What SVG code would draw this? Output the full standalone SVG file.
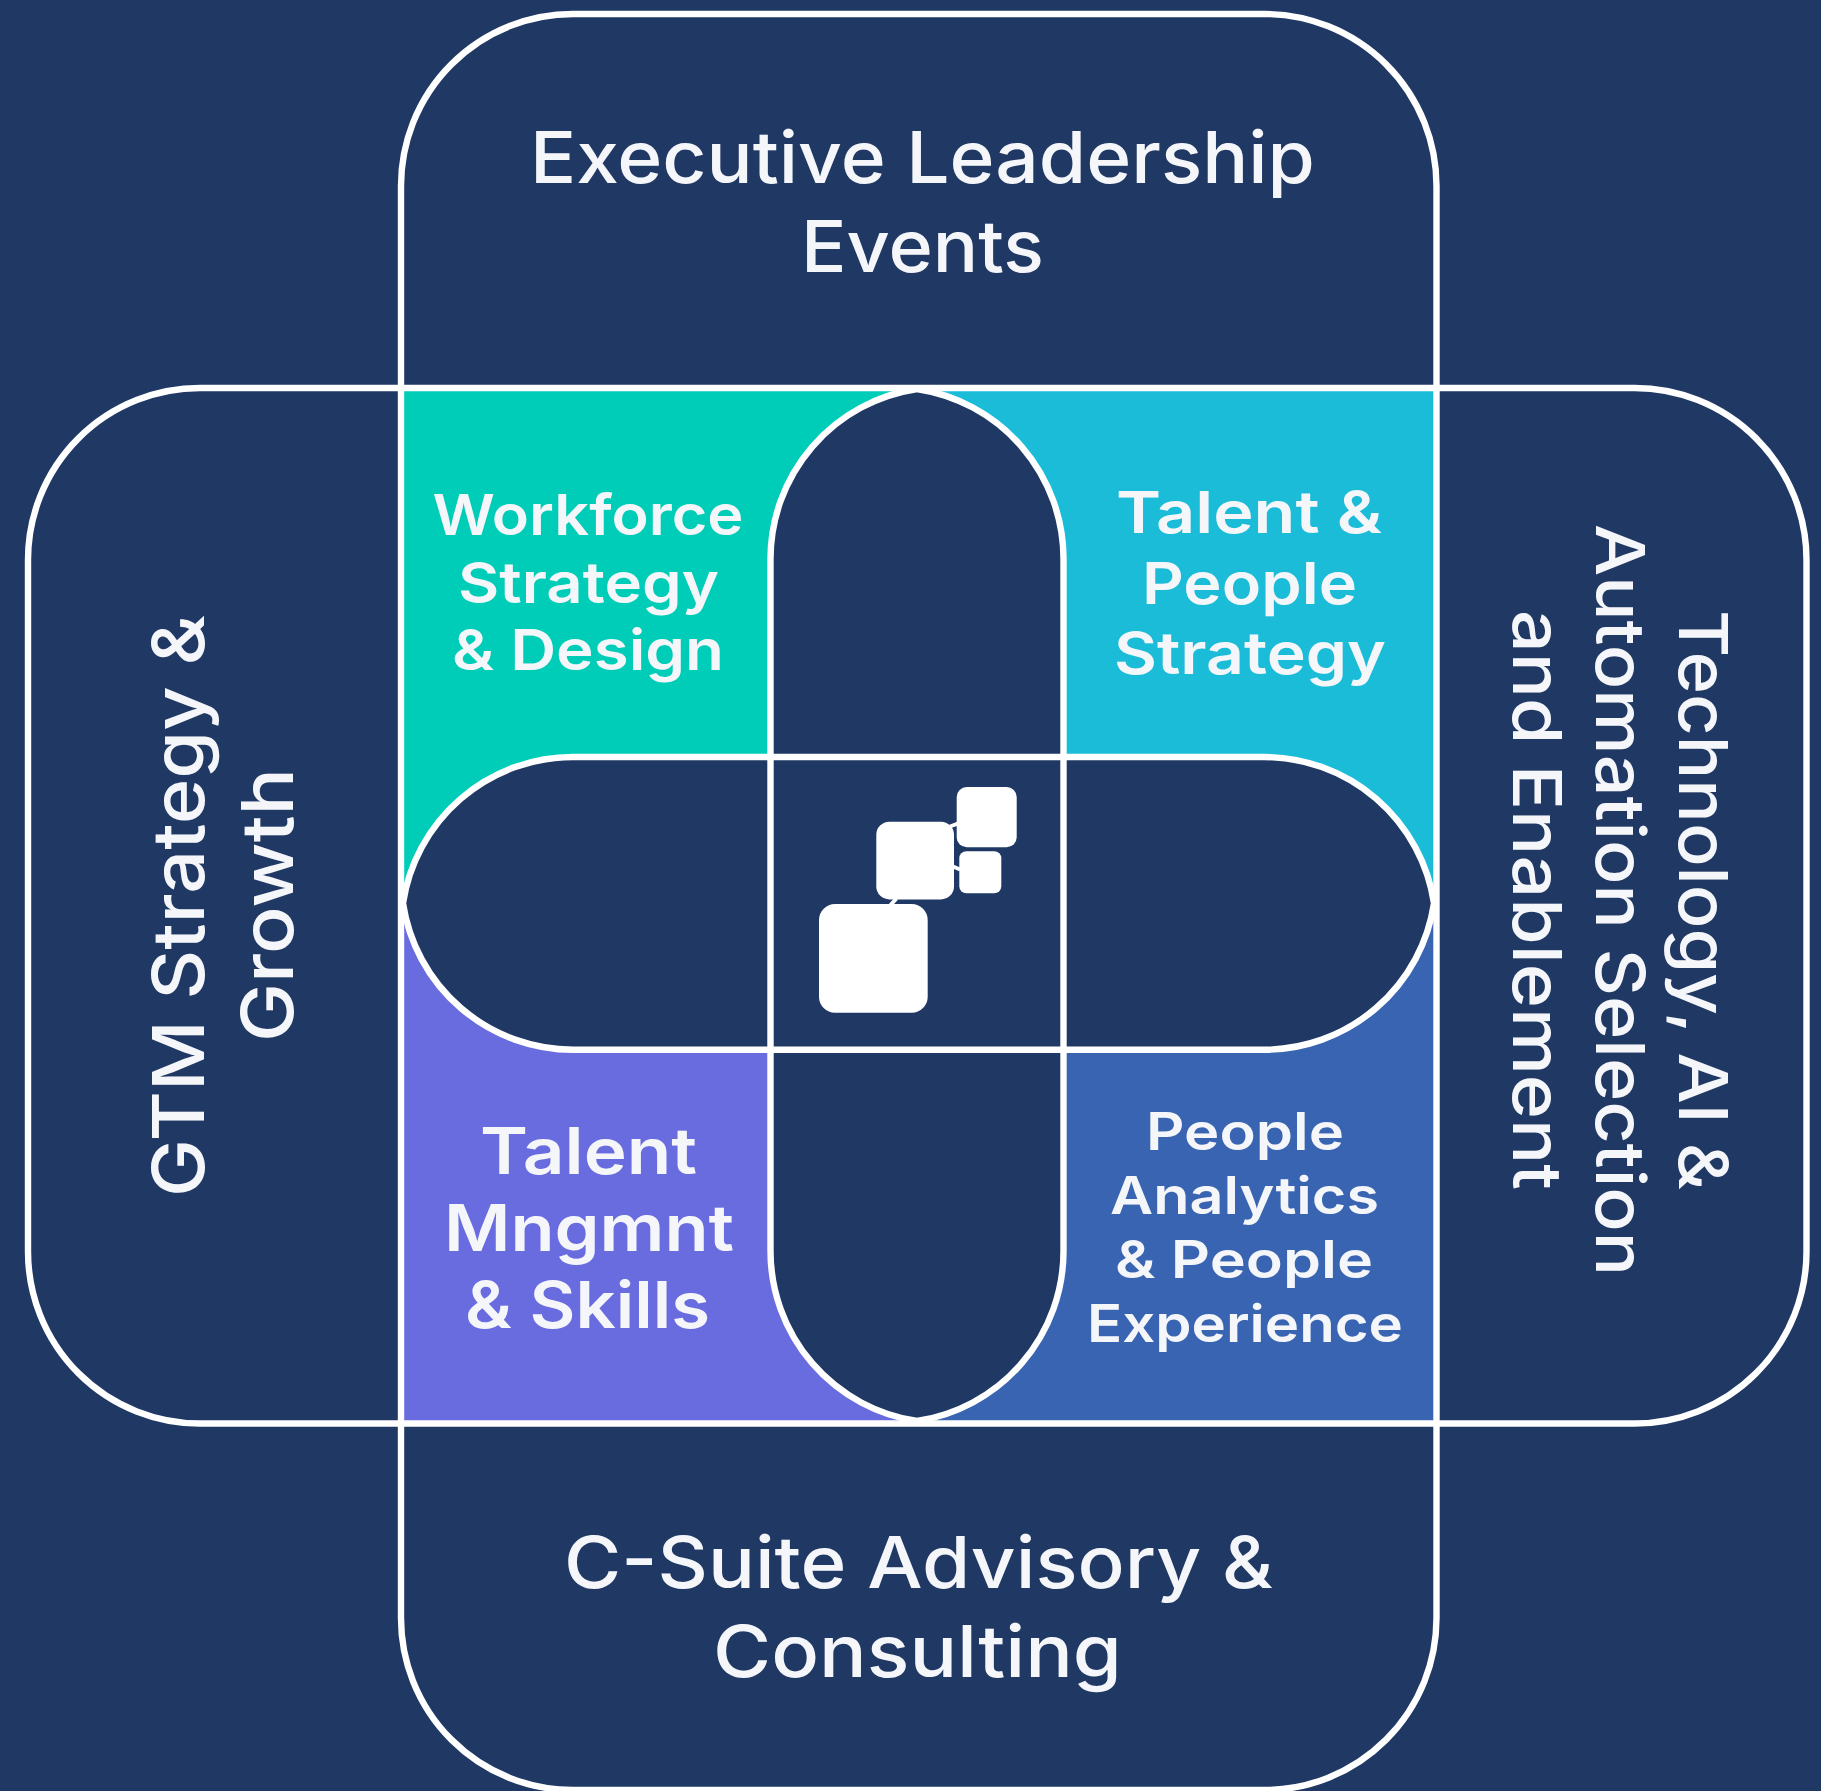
<svg xmlns="http://www.w3.org/2000/svg" width="1821" height="1791" viewBox="0 0 1821 1791">
<style>
.o{fill:none;stroke:#fff;stroke-width:6.4}
.n{fill:#203864;stroke:none}
.t{font-family:Inter,"Liberation Sans",sans-serif;fill:#F5F6FA}
.a{font-size:72px;font-weight:500}
.r{font-size:68px;font-weight:500}
.b{font-weight:600}
.w{fill:#fff}
.c{stroke:#fff;stroke-width:4;fill:none}
</style>
<defs>
<path id="vp" d="M770.500 559A172 172 0 0 1 917 389A172 172 0 0 1 1063.500 559V1251A172 172 0 0 1 917 1421A172 172 0 0 1 770.500 1251Z"/>
<path id="hp" d="M573 757H1264A172 172 0 0 1 1434 903.300A172 172 0 0 1 1264 1049.700H573A172 172 0 0 1 403 903.300A172 172 0 0 1 573 757Z"/>
</defs>
<rect width="1821" height="1791" fill="#203864"/>
<g id="quadrant-fills">
<rect id="fill-tl" x="401" y="388" width="516" height="515" fill="#00CDB7"/>
<rect id="fill-tr" x="917" y="388" width="519" height="515" fill="#1BBCD8"/>
<rect id="fill-bl" x="401" y="903" width="516" height="520" fill="#696CDF"/>
<rect id="fill-br" x="917" y="903" width="519" height="520" fill="#3864B1"/>
</g>
<g id="pill-fills">
<use href="#vp" class="n"/>
<use href="#hp" class="n"/>
</g>
<g id="connectors">
<path class="c" d="M890.500 905L896.500 898.500"/>
<path class="c" stroke-width="3.500" d="M950 826.500L958 823.500"/>
<path class="c" stroke-width="3.500" d="M953 866.500L960 869.500"/>
</g>
<g id="executive-leadership-events">
<rect class="o" x="401" y="14" width="1035.500" height="1776" rx="172" ry="172"/>
<text class="t a" x="530" y="182.700" textLength="785" lengthAdjust="spacingAndGlyphs">Executive Leadership</text>
<text class="t a" x="801" y="272.200" textLength="243" lengthAdjust="spacingAndGlyphs">Events</text>
</g>
<g id="gtm-strategy-growth">
<rect class="o" x="28" y="388" width="1778.500" height="1035.500" rx="172" ry="172"/>
<text class="t a" transform="translate(204 1197) rotate(-90)" textLength="582" lengthAdjust="spacingAndGlyphs">GTM Strategy &amp;</text>
<text class="t a" transform="translate(293.300 1042) rotate(-90)" textLength="274" lengthAdjust="spacingAndGlyphs">Growth</text>
</g>
<g id="vertical-pill">
<use href="#vp" class="o"/>
</g>
<g id="horizontal-pill">
<use href="#hp" class="o"/>
</g>
<g id="technology-ai-automation">
<text class="t r" transform="translate(1679 610) rotate(90)" textLength="580" lengthAdjust="spacingAndGlyphs">Technology, AI &amp;</text>
<text class="t r" transform="translate(1596 524) rotate(90)" textLength="752" lengthAdjust="spacingAndGlyphs">Automation Selection</text>
<text class="t r" transform="translate(1512.700 610) rotate(90)" textLength="580" lengthAdjust="spacingAndGlyphs">and Enablement</text>
</g>
<g id="c-suite-advisory">
<text class="t a" x="564" y="1588.300" textLength="709" lengthAdjust="spacingAndGlyphs">C-Suite Advisory &amp;</text>
<text class="t a" x="713" y="1677.200" textLength="409" lengthAdjust="spacingAndGlyphs">Consulting</text>
</g>
<g id="workforce-strategy-design">
<text class="t b" font-size="57" x="432.500" y="535" textLength="311" lengthAdjust="spacingAndGlyphs">Workforce</text>
<text class="t b" font-size="57" x="458" y="602.500" textLength="261" lengthAdjust="spacingAndGlyphs">Strategy</text>
<text class="t b" font-size="57" x="452" y="669.500" textLength="272" lengthAdjust="spacingAndGlyphs">&amp; Design</text>
</g>
<g id="talent-people-strategy">
<text class="t b" font-size="58" x="1116" y="533" textLength="266" lengthAdjust="spacingAndGlyphs">Talent &amp;</text>
<text class="t b" font-size="58" x="1142" y="604" textLength="215" lengthAdjust="spacingAndGlyphs">People</text>
<text class="t b" font-size="58" x="1114" y="674" textLength="272" lengthAdjust="spacingAndGlyphs">Strategy</text>
</g>
<g id="people-analytics-experience">
<text class="t b" font-size="52" x="1146" y="1150" textLength="198" lengthAdjust="spacingAndGlyphs">People</text>
<text class="t b" font-size="52" x="1110" y="1214" textLength="269" lengthAdjust="spacingAndGlyphs">Analytics</text>
<text class="t b" font-size="52" x="1115" y="1278" textLength="258" lengthAdjust="spacingAndGlyphs">&amp; People</text>
<text class="t b" font-size="52" x="1087" y="1342" textLength="316" lengthAdjust="spacingAndGlyphs">Experience</text>
</g>
<g id="talent-mngmnt-skills">
<text class="t b" font-size="64" x="480" y="1173.500" textLength="217" lengthAdjust="spacingAndGlyphs">Talent</text>
<text class="t b" font-size="64" x="444" y="1251" textLength="290" lengthAdjust="spacingAndGlyphs">Mngmnt</text>
<text class="t b" font-size="64" x="465" y="1327.500" textLength="245" lengthAdjust="spacingAndGlyphs">&amp; Skills</text>
</g>
<g id="logo">
<rect class="w" x="819" y="904" width="108.700" height="108.700" rx="16"/>
<rect class="w" x="876.300" y="821.700" width="77.700" height="77.700" rx="13"/>
<rect class="w" x="956.700" y="787" width="60" height="60.300" rx="10"/>
<rect class="w" x="959.300" y="851.300" width="42" height="42" rx="7"/>
</g>
</svg>
